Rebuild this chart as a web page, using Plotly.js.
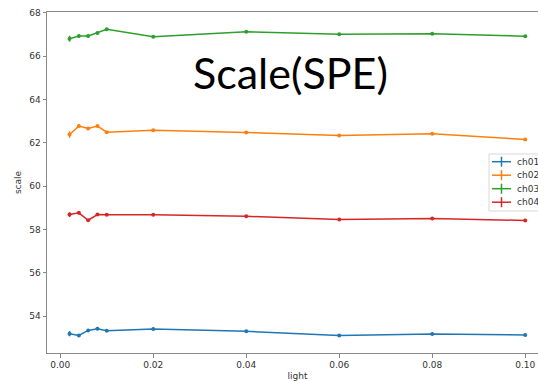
<!DOCTYPE html>
<html>
<head>
<meta charset="utf-8">
<script src="https://cdn.plot.ly/plotly-3.0.1.min.js"></script>
<style>
  html, body { margin: 0; padding: 0; overflow: hidden; background: #fff; }
  #chart { width: 560px; height: 381px; }
</style>
</head>
<body>
<div id="chart"></div>
<script>
// light level of each measurement
const light = [0.002, 0.004, 0.006, 0.008, 0.01, 0.02, 0.04, 0.06, 0.08, 0.10];

// fitted scale per channel
const ch01 = [53.20, 53.12, 53.35, 53.43, 53.34, 53.42, 53.31, 53.12, 53.19, 53.14];
const ch02 = [62.38, 62.77, 62.66, 62.77, 62.49, 62.58, 62.48, 62.34, 62.42, 62.15];
const ch03 = [66.80, 66.92, 66.92, 67.06, 67.23, 66.89, 67.12, 67.00, 67.03, 66.91];
const ch04 = [58.69, 58.77, 58.43, 58.69, 58.68, 58.68, 58.61, 58.47, 58.51, 58.42];

// uncertainty on each fitted scale
const err01 = [0.12, 0.06, 0.06, 0.05, 0.04, 0.03, 0.03, 0.03, 0.03, 0.03];
const err02 = [0.15, 0.08, 0.06, 0.06, 0.04, 0.03, 0.03, 0.03, 0.03, 0.03];
const err03 = [0.14, 0.07, 0.05, 0.05, 0.04, 0.03, 0.03, 0.03, 0.03, 0.03];
const err04 = [0.11, 0.08, 0.06, 0.05, 0.04, 0.03, 0.03, 0.03, 0.03, 0.03];

const names = ['ch01', 'ch02', 'ch03', 'ch04'];
const series = [ch01, ch02, ch03, ch04];
const errors = [err01, err02, err03, err04];
const colors = ['#1f77b4', '#ff7f0e', '#2ca02c', '#d62728'];

const traces = series.map((y, i) => ({
  x: light,
  y: y,
  name: names[i],
  type: 'scatter',
  mode: 'lines+markers',
  line: { color: colors[i], width: 1.5 },
  marker: { color: colors[i], size: 4 },
  error_y: { type: 'data', array: errors[i], visible: true, color: colors[i], thickness: 1.5, width: 0 },
  showlegend: false
}));

// plot area geometry in pixels
const W = 560, H = 381;
const M = { l: 47, r: 12, t: 12, b: 28 };
const plotW = W - M.l - M.r, plotH = H - M.t - M.b;
const px = x => (x - M.l) / plotW;
const py = y => (H - M.b - y) / plotH;

// matplotlib-style legend box: horizontal line with an error-bar cross
const shapes = [{
  type: 'rect', xref: 'paper', yref: 'paper',
  x0: px(489), x1: px(575), y0: py(211), y1: py(154),
  line: { color: '#d8d8d8', width: 1 }, fillcolor: 'rgba(255,255,255,0.85)'
}];
const legendText = [];
names.forEach((n, i) => {
  const yc = 161.7 + i * 13.5;
  shapes.push({ type: 'line', xref: 'paper', yref: 'paper',
    x0: px(492), x1: px(511), y0: py(yc), y1: py(yc),
    line: { color: colors[i], width: 1.5 } });
  shapes.push({ type: 'line', xref: 'paper', yref: 'paper',
    x0: px(501.5), x1: px(501.5), y0: py(yc - 5), y1: py(yc + 5),
    line: { color: colors[i], width: 1.5 } });
  legendText.push({
    text: n, xref: 'paper', yref: 'paper',
    x: px(515), y: py(yc), xanchor: 'left', yanchor: 'middle',
    showarrow: false,
    font: { family: 'DejaVu Sans', size: 9, color: '#333' }
  });
});

const axisFont = { family: 'DejaVu Sans', size: 9, color: '#333' };

const layout = {
  width: W,
  height: H,
  margin: M,
  paper_bgcolor: '#fff',
  plot_bgcolor: '#fff',
  showlegend: false,
  xaxis: {
    range: [-0.00285, 0.1049],
    tickvals: [0, 0.02, 0.04, 0.06, 0.08, 0.10],
    ticktext: ['0.00', '0.02', '0.04', '0.06', '0.08', '0.10'],
    showgrid: false, zeroline: false,
    showline: true, mirror: true, linecolor: '#888', linewidth: 1,
    ticks: 'outside', ticklen: 3.5, tickcolor: '#888',
    tickfont: axisFont,
    title: { text: 'light', font: axisFont, standoff: 4 }
  },
  yaxis: {
    range: [52.31, 68.03],
    tickvals: [54, 56, 58, 60, 62, 64, 66, 68],
    showgrid: false, zeroline: false,
    showline: true, mirror: true, linecolor: '#888', linewidth: 1,
    ticks: 'outside', ticklen: 3.5, tickcolor: '#888',
    tickfont: axisFont,
    title: { text: 'scale', font: axisFont, standoff: 6 }
  },
  shapes: shapes,
  annotations: [{
    text: 'Scale(SPE)',
    xref: 'paper', yref: 'paper',
    x: px(290), y: py(73), xanchor: 'center', yanchor: 'middle',
    showarrow: false,
    font: { family: 'Lato', size: 43, color: '#000' }
  }].concat(legendText)
};

Plotly.newPlot('chart', traces, layout, { displayModeBar: false, staticPlot: true });
</script>
</body>
</html>
